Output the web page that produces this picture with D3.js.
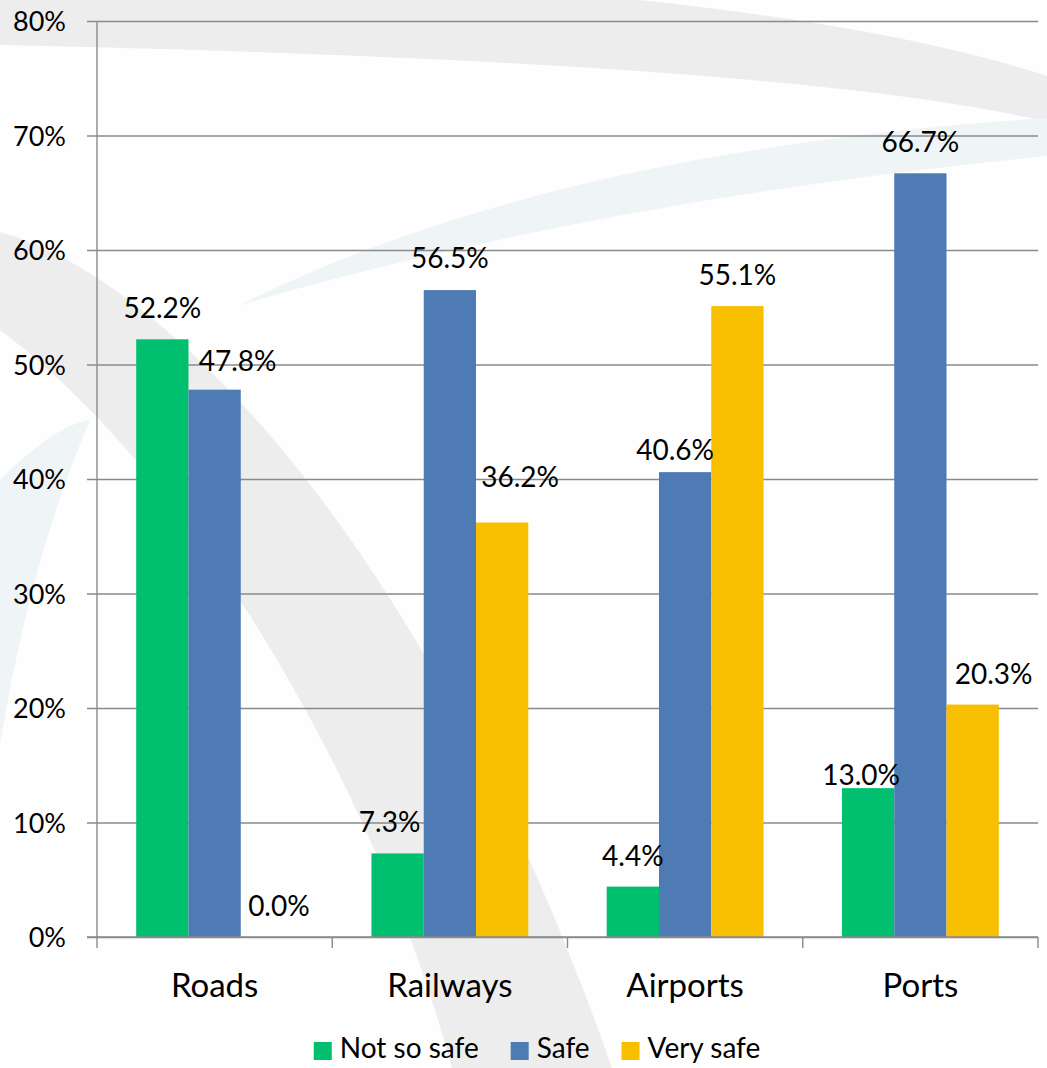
<!DOCTYPE html>
<html>
<head>
<meta charset="utf-8">
<script src="https://cdn.jsdelivr.net/npm/d3@7"></script>
<style>
  html, body { margin: 0; padding: 0; background: #fefefe; }
  svg { display: block; font-family: Lato, "Open Sans", sans-serif; }
</style>
</head>
<body>
<svg id="chart" width="1047" height="1068"></svg>
<script>
// Survey results: perceived safety by transport infrastructure
const categories = ["Roads", "Railways", "Airports", "Ports"];
const seriesNames = ["Not so safe", "Safe", "Very safe"];
const notSoSafe = [0.522, 0.073, 0.044, 0.130];
const safe      = [0.478, 0.565, 0.406, 0.667];
const verySafe  = [0.000, 0.362, 0.551, 0.203];
const yTicks = [0, 0.1, 0.2, 0.3, 0.4, 0.5, 0.6, 0.7, 0.8];

const seriesValues = [notSoSafe, safe, verySafe];
const colors = ["#00bf6f", "#4f7bb5", "#f8be00"];

// hand-placed label nudges [dx, dy] per category / series, to avoid collisions
const labelNudge = [
  [[0, 0], [23, 2], [12, 0]],
  [[-8, 0], [0, -1], [18, -15]],
  [[0, 0], [-10, 9], [0, 0]],
  [[-7, 18], [0, 0], [21, 0]]
];

const svg = d3.select("#chart");
const plot = { left: 97, right: 1038, top: 21, bottom: 937 };

// faint decorative swooshes in the background
const bg = svg.append("g");
bg.append("path")
  .attr("d", "M0,0 L640,0 Q900,28 1047,76 L1047,122 Q800,62 0,45 Z")
  .attr("fill", "#ededed");
bg.append("path")
  .attr("d", "M0,232 C150,272 420,520 612,1068 L452,1068 C380,800 200,480 0,330 Z")
  .attr("fill", "#ededed");
bg.append("path")
  .attr("d", "M240,305 Q550,150 1047,118 L1047,156 Q600,200 240,305 Z")
  .attr("fill", "#eff4f7");
bg.append("path")
  .attr("d", "M0,480 Q55,425 90,420 Q30,560 0,745 Z")
  .attr("fill", "#eff4f7");

const y = d3.scaleLinear().domain([0, 0.8]).range([plot.bottom, plot.top]);
const x0 = d3.scaleBand().domain(categories).range([plot.left, plot.right]).padding(0);
const x1 = d3.scaleBand().domain(seriesNames).range([0, x0.bandwidth()])
  .paddingInner(0).paddingOuter(0.75);

// y axis with full-width gridlines
const yAxis = d3.axisLeft(y)
  .tickValues(yTicks)
  .tickFormat(d3.format(".0%"))
  .tickSizeInner(-(plot.right - (plot.left - 10)))
  .tickSizeOuter(0)
  .tickPadding(21);

const gy = svg.append("g")
  .attr("transform", `translate(${plot.left - 10},0)`)
  .call(yAxis);
gy.select(".domain").remove();
gy.selectAll(".tick line").attr("stroke", "#8a8a8a").attr("stroke-width", 1.4);
gy.selectAll(".tick text")
  .attr("fill", "#000")
  .style("font-size", "27px")
  .style("font-family", "Lato, sans-serif")
  .attr("dy", "0.36em");

// vertical axis line
svg.append("line")
  .attr("x1", plot.left).attr("x2", plot.left)
  .attr("y1", plot.top).attr("y2", plot.bottom + 11)
  .attr("stroke", "#8a8a8a").attr("stroke-width", 1.4);

// category boundary ticks on the x axis
const boundaries = categories.map(c => x0(c)).concat([plot.right]);
svg.append("g").selectAll("line").data(boundaries.slice(1)).join("line")
  .attr("x1", d => d).attr("x2", d => d)
  .attr("y1", plot.bottom).attr("y2", plot.bottom + 11)
  .attr("stroke", "#8a8a8a").attr("stroke-width", 1.4);

// bars
const groups = svg.append("g").selectAll("g").data(categories).join("g")
  .attr("transform", c => `translate(${x0(c)},0)`);

groups.selectAll("rect")
  .data((c, i) => seriesNames.map((s, j) => ({ s, j, i, v: seriesValues[j][i] })))
  .join("rect")
  .attr("x", d => x1(d.s))
  .attr("width", x1.bandwidth())
  .attr("y", d => y(d.v))
  .attr("height", d => y(0) - y(d.v))
  .attr("fill", d => colors[d.j]);

// redraw the baseline over the bars
svg.append("line")
  .attr("x1", plot.left - 10).attr("x2", plot.right)
  .attr("y1", plot.bottom).attr("y2", plot.bottom)
  .attr("stroke", "#8a8a8a").attr("stroke-width", 1.4);

// value labels
groups.selectAll("text.val")
  .data((c, i) => seriesNames.map((s, j) => ({ s, j, i, v: seriesValues[j][i] })))
  .join("text")
  .attr("class", "val")
  .attr("x", d => x1(d.s) + x1.bandwidth() / 2 + labelNudge[d.i][d.j][0])
  .attr("y", d => y(d.v) - 21 + labelNudge[d.i][d.j][1])
  .attr("text-anchor", "middle")
  .style("font-size", "28px")
  .attr("fill", "#000")
  .text(d => d3.format(".1%")(d.v));

// category labels
const xAxis = d3.axisBottom(x0).tickSize(0).tickPadding(0);
const gx = svg.append("g").attr("transform", `translate(0,${plot.bottom})`).call(xAxis);
gx.select(".domain").remove();
gx.selectAll(".tick text")
  .attr("y", 60).attr("dy", 0)
  .attr("fill", "#000")
  .style("font-size", "33px")
  .style("font-family", "Lato, sans-serif");

// legend
const legend = svg.append("g");
const items = legend.selectAll("g").data(seriesNames).join("g");
items.append("rect").attr("width", 18).attr("height", 18).attr("y", -16)
  .attr("fill", (d, i) => colors[i]);
items.append("text").attr("x", 26).attr("y", 0)
  .style("font-size", "28px").attr("fill", "#000").text(d => d);
let cursor = 0;
items.each(function () {
  const g = d3.select(this);
  g.attr("transform", `translate(${cursor},0)`);
  cursor += 26 + g.select("text").node().getComputedTextLength() + 32;
});
const legendWidth = cursor - 32;
legend.attr("transform", `translate(${537 - legendWidth / 2},1058)`);
</script>
</body>
</html>
